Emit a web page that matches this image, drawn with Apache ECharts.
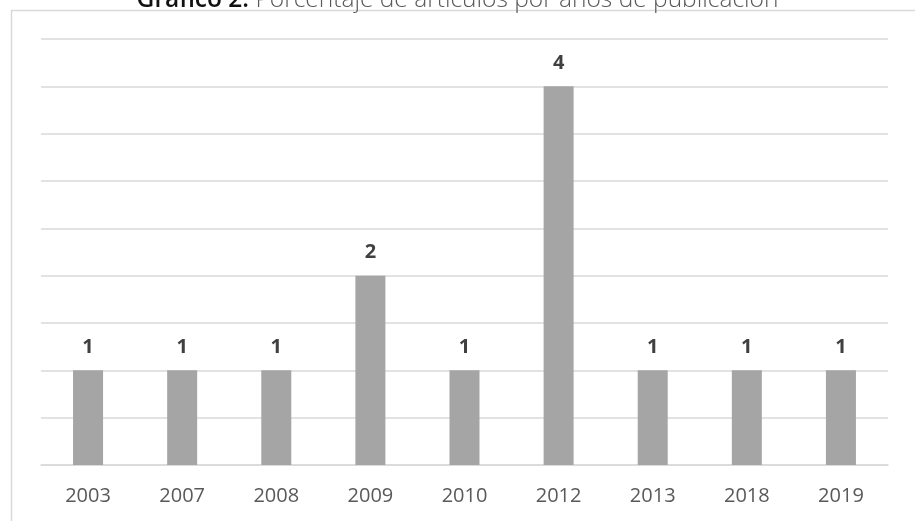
<!DOCTYPE html>
<html>
<head>
<meta charset="utf-8">
<script src="https://cdn.jsdelivr.net/npm/echarts@6/dist/echarts.min.js"></script>
<style>
html,body{margin:0;padding:0;background:#fff;}
#c{width:915px;height:521px;}
</style>
</head>
<body>
<div id="c"></div>
<script>
var categories = ['2003','2007','2008','2009','2010','2012','2013','2018','2019'];
var values = [1,1,1,2,1,4,1,1,1];
var titleBold = 'Gráfico 2.';
var titleRest = ' Porcentaje de artículos por años de publicación';

var chart = echarts.init(document.getElementById('c'));
chart.setOption({
  animation: false,
  backgroundColor: '#ffffff',
  graphic: [{
    type: 'rect',
    shape: {x: 11.5, y: 10.5, width: 1000, height: 1000},
    style: {fill: 'none', stroke: '#d9d9d9', lineWidth: 1.5},
    z: -1
  }],
  title: {
    text: '{b|' + titleBold + '}{r|' + titleRest + '}',
    left: 'center',
    top: -17,
    textStyle: {
      rich: {
        b: {fontFamily: 'Open Sans', fontSize: 24.5, color: '#111111', fontWeight: 600},
        r: {fontFamily: 'Open Sans', fontSize: 24.5, color: '#595959', fontWeight: 300}
      }
    }
  },
  grid: {left: 41, right: 27, top: 39, bottom: 56, containLabel: false},
  xAxis: {
    type: 'category',
    data: categories,
    axisLine: {lineStyle: {color: '#d9d9d9', width: 1.5}},
    axisTick: {show: false},
    axisLabel: {color: '#595959', fontSize: 20, fontFamily: 'Open Sans', margin: 21}
  },
  yAxis: {
    type: 'value',
    min: 0, max: 4.5, interval: 0.5,
    axisLabel: {show: false},
    axisLine: {show: false},
    axisTick: {show: false},
    splitLine: {lineStyle: {color: '#d9d9d9', width: 1.5}}
  },
  series: [{
    type: 'bar',
    data: values,
    barWidth: 30,
    itemStyle: {color: '#a5a5a5'},
    label: {
      show: true, position: 'top', distance: 13,
      color: '#404040', fontSize: 20, fontWeight: 'bold', fontFamily: 'Open Sans'
    }
  }]
});
</script>
</body>
</html>
